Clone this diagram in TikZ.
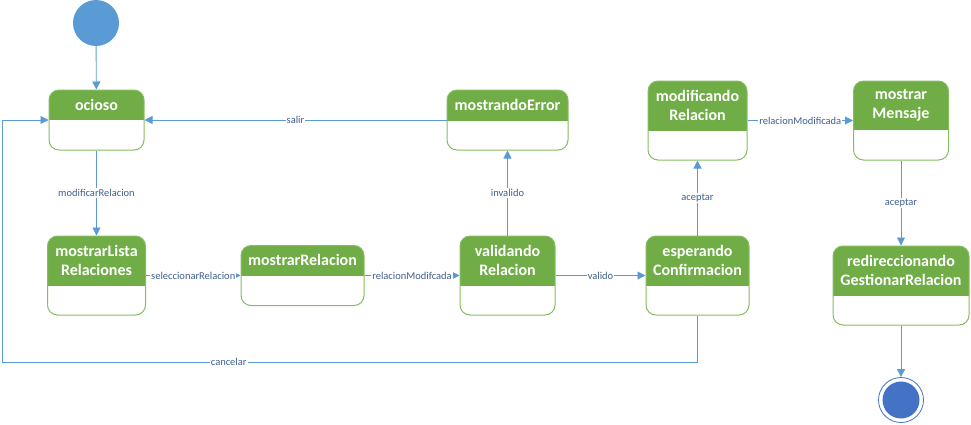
\documentclass[tikz,border=0pt]{standalone}
\usepackage{fontspec}
\setmainfont{Carlito}
\usepackage{tikz}
\usetikzlibrary{positioning,arrows.meta}
\definecolor{stateGreen}{HTML}{70AD47}
\definecolor{stateEdge}{HTML}{86BC62}
\definecolor{flowBlue}{HTML}{5B9BD5}
\definecolor{labelInk}{HTML}{415F8E}
\definecolor{finalBlue}{HTML}{4472C4}

\tikzset{
  headh/.store in=\headh, headh=30pt,
  state/.style={draw=stateEdge, line width=1pt, rounded corners=10pt, fill=white,
    inner sep=0pt,
    path picture={\fill[stateGreen,sharp corners] (path picture bounding box.north west)
      rectangle ([yshift=-\headh]path picture bounding box.north east);}},
  statename/.style={text=white, font=\fontsize{16}{19}\selectfont\bfseries,
    align=center, inner sep=0pt, anchor=north},
  flow/.style={draw=flowBlue, line width=0.9pt, -{Triangle[length=8pt,width=8pt]}},
  trig/.style={fill=white, text=labelInk, font=\fontsize{10.5}{12}\selectfont,
    inner sep=1pt},
}

\begin{document}
\begin{tikzpicture}[x=1pt,y=-1pt]
\useasboundingbox (0,0) rectangle (971,424);

\node[circle, fill=flowBlue, minimum size=46pt, inner sep=0pt] (start) at (96,23) {};
\node[circle, draw=finalBlue, line width=0.8pt, minimum size=45pt, inner sep=0pt,
      path picture={\fill[finalBlue] (path picture bounding box.center) circle (18.5pt);}]
      (final) at (901,400) {};

% states
\node[state, minimum width=95pt, minimum height=60pt, headh=30pt] (ocioso) at (96.5,120) {};
\node[state, minimum width=98pt, minimum height=79pt, headh=50pt] (mostrarLista) at (96.5,275.5) {};
\node[state, minimum width=123pt, minimum height=60pt, headh=30pt] (mostrarRelacion) at (302.5,275.5) {};
\node[state, minimum width=121pt, minimum height=60pt, headh=31pt] (mostrandoError) at (507.5,120) {};
\node[state, minimum width=95pt, minimum height=79pt, headh=50pt] (validando) at (507.5,275.5) {};
\node[state, minimum width=103pt, minimum height=79pt, headh=50pt] (esperando) at (697.5,275.5) {};
\node[state, minimum width=99pt, minimum height=79pt, headh=50pt] (modificando) at (697.5,120.5) {};
\node[state, minimum width=95pt, minimum height=79pt, headh=49pt] (mostrarMensaje) at (901,120.5) {};
\node[state, minimum width=136pt, minimum height=79pt, headh=50pt] (redireccionando) at (901,285.5) {};

\node[statename, minimum height=30pt] (ociosoName) at (ocioso.north) {ocioso};
\node[statename, minimum height=50pt] (mostrarListaName) at (mostrarLista.north) {mostrarLista\\Relaciones};
\node[statename, minimum height=30pt] (mostrarRelacionName) at (mostrarRelacion.north) {mostrarRelacion};
\node[statename, minimum height=31pt] (mostrandoErrorName) at (mostrandoError.north) {mostrandoError};
\node[statename, minimum height=50pt] (validandoName) at (validando.north) {validando\\Relacion};
\node[statename, minimum height=50pt] (esperandoName) at (esperando.north) {esperando\\Confirmacion};
\node[statename, minimum height=50pt] (modificandoName) at (modificando.north) {modificando\\Relacion};
\node[statename, minimum height=49pt] (mostrarMensajeName) at (mostrarMensaje.north) {mostrar\\Mensaje};
\node[statename, minimum height=50pt] (redireccionandoName) at (redireccionando.north) {redireccionando\\GestionarRelacion};

\coordinate (cancelCorner) at (2,362);

% transitions
\draw[flow] (start) -- (ocioso);
\draw[flow] (ocioso) -- node[trig]{modificarRelacion} (mostrarLista);
\draw[flow] (mostrarLista) -- node[trig]{seleccionarRelacion} (mostrarRelacion);
\draw[flow] (mostrarRelacion) -- node[trig]{relacionModifcada} (validando);
\draw[flow] (validando) -- node[trig]{valido} (esperando);
\draw[flow] (validando) -- node[trig]{invalido} (mostrandoError);
\draw[flow] (mostrandoError) -- node[trig]{salir} (ocioso);
\draw[flow] (esperando) -- node[trig]{aceptar} (modificando);
\draw[flow] (modificando) -- node[trig]{relacionModificada} (mostrarMensaje);
\draw[flow] (mostrarMensaje) -- node[trig]{aceptar} (redireccionando);
\draw[flow] (redireccionando) -- (final);
\draw[flow] (esperando.south) |- node[trig, pos=0.837]{cancelar} (cancelCorner) |- (ocioso.west);
\end{tikzpicture}
\end{document}
